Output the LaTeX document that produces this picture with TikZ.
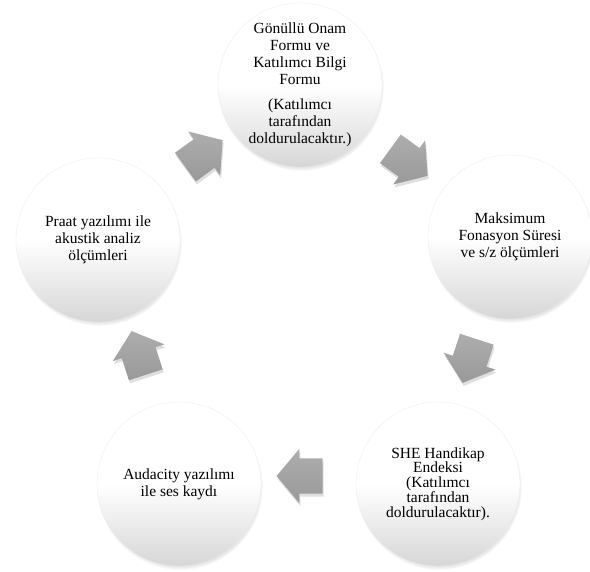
\documentclass[tikz,border=0pt]{standalone}
\usepackage{fontspec}
\setmainfont{Liberation Serif}
\newfontfamily\tnr{Liberation Serif}
\usetikzlibrary{shapes.arrows,shadows}
\tikzset{
  stage/.style={circle, minimum size=164pt, inner sep=0pt, align=center,
    top color=white, bottom color=black!16, middle color=white, draw=black!8, line width=0.3pt,
    font=\tnr\fontsize{15.5}{17}\selectfont,
    circular drop shadow={shadow xshift=1pt, shadow yshift=-3pt, shadow scale=1.01, opacity=0.6}},
  blockarrow/.style={single arrow, minimum height=46pt, inner xsep=0pt, inner ysep=17.5pt,
    single arrow head extend=9.5pt, single arrow tip angle=100, draw=none,
    top color=black!32, bottom color=black!40,
    drop shadow={shadow xshift=1pt, shadow yshift=-3pt, opacity=0.25}}
}
\begin{document}
\begin{tikzpicture}[x=1pt, y=-1pt]
\useasboundingbox (0,0) rectangle (590,572);
\fill[white] (0,0) rectangle (590,572);
\node[stage] (n1) at (300,85) {Gönüllü Onam\\Formu ve\\Katılımcı Bilgi\\Formu\\[8pt](Katılımcı\\tarafından\\doldurulacaktır.)};
\node[stage] (n2) at (510,237) {Maksimum\\Fonasyon Süresi\\ve s/z ölçümleri};
\node[stage, font=\tnr\fontsize{15.5}{14.8}\selectfont] (n3) at (438,484) {SHE Handikap\\Endeksi\\(Katılımcı\\tarafından\\doldurulacaktır).};
\node[stage] (n4) at (179,484) {Audacity yazılımı\\ile ses kaydı};
\node[stage] (n5) at (98,240) {Praat yazılımı ile\\akustik analiz\\ölçümleri};
\node[blockarrow, rotate=-36] (a1) at (403,158) {};
\node[blockarrow, rotate=-108] (a2) at (472,354) {};
\node[blockarrow, rotate=180] (a3) at (307,476) {};
\node[blockarrow, rotate=108] (a4) at (141,360) {};
\node[blockarrow, rotate=36] (a5) at (198,158) {};
\end{tikzpicture}
\end{document}
